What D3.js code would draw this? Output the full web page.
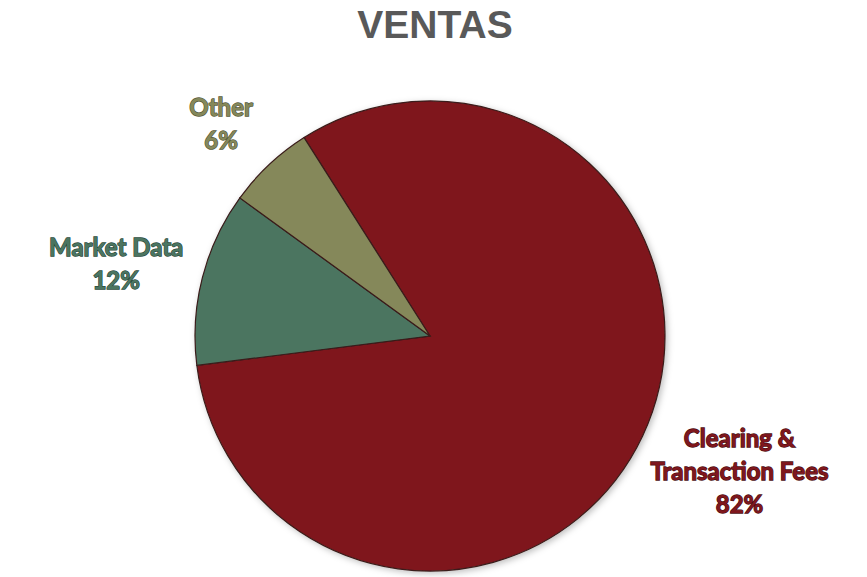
<!DOCTYPE html>
<html lang="es">
<head>
<meta charset="utf-8">
<title>Ventas</title>
<script src="https://d3js.org/d3.v7.min.js"></script>
<style>
  body { margin: 0; background: #fff; }
  svg { display: block; }
  .title { font-family: "Liberation Sans", Arial, sans-serif; font-weight: bold; font-size: 39px; fill: #595959; }
  .labels { font-family: Lato, "Open Sans", sans-serif; font-weight: 700; font-size: 24px; paint-order: stroke; stroke-width: 1.3px; }
  .slices { stroke: #3a1c1a; stroke-width: 1.2; }
</style>
</head>
<body>
<div id="chart"></div>
<script>
// data
const categories = ["Clearing & Transaction Fees", "Market Data", "Other"];
const values = [82, 12, 6];
const labelLines = [["Clearing &", "Transaction Fees"], ["Market Data"], ["Other"]];
const colors = ["#7F171D", "#4B7561", "#85885A"];
const textStroke = ["#4a0c10", "#2c4a3b", "#55583a"];

const w = 867, h = 577;
const cx = 430, cy = 336, r = 235;
// how far out each label sits
const labelRadius = { "Clearing & Transaction Fees": 338, "Market Data": 322, "Other": 297 };
const labelTurn = -1.5 * Math.PI / 180;

const svg = d3.select("#chart").append("svg")
  .attr("width", w).attr("height", h);

const defs = svg.append("defs");
const f = defs.append("filter").attr("id", "sh").attr("x", "-20%").attr("y", "-20%").attr("width", "140%").attr("height", "140%");
f.append("feDropShadow").attr("dx", 2).attr("dy", 2).attr("stdDeviation", 3).attr("flood-color", "#000").attr("flood-opacity", 0.25);

svg.append("text").attr("class", "title")
  .attr("x", 435).attr("y", 38).attr("text-anchor", "middle").text("VENTAS");

const total = d3.sum(values);
const start = -32.4 * Math.PI / 180;
const pie = d3.pie().sort(null).startAngle(start).endAngle(start + 2 * Math.PI);
const arcs = pie(values);
const arc = d3.arc().innerRadius(0).outerRadius(r);

const g = svg.append("g").attr("transform", `translate(${cx},${cy})`);

g.append("g").attr("filter", "url(#sh)")
  .selectAll("path").data(arcs).join("path")
  .attr("class", "slices")
  .attr("d", arc)
  .attr("fill", (d, i) => colors[i]);

const lab = g.selectAll(".labels").data(arcs).join("text")
  .attr("class", "labels")
  .attr("text-anchor", "middle")
  .attr("fill", (d, i) => colors[i])
  .attr("stroke", (d, i) => textStroke[i])
  .attr("transform", (d, i) => {
    const lr = labelRadius[categories[i]];
    const a = (d.startAngle + d.endAngle) / 2 + labelTurn;
    return `translate(${Math.sin(a) * lr},${-Math.cos(a) * lr})`;
  });

const lineH = 33;
lab.each(function (d, i) {
  const lines = labelLines[i].concat([Math.round(values[i] / total * 100) + "%"]);
  const t = d3.select(this);
  const y0 = -(lines.length - 1) * lineH / 2 + 8;
  lines.forEach((s, k) => {
    t.append("tspan").attr("x", 0).attr("y", y0 + k * lineH).text(s);
  });
});
</script>
</body>
</html>
